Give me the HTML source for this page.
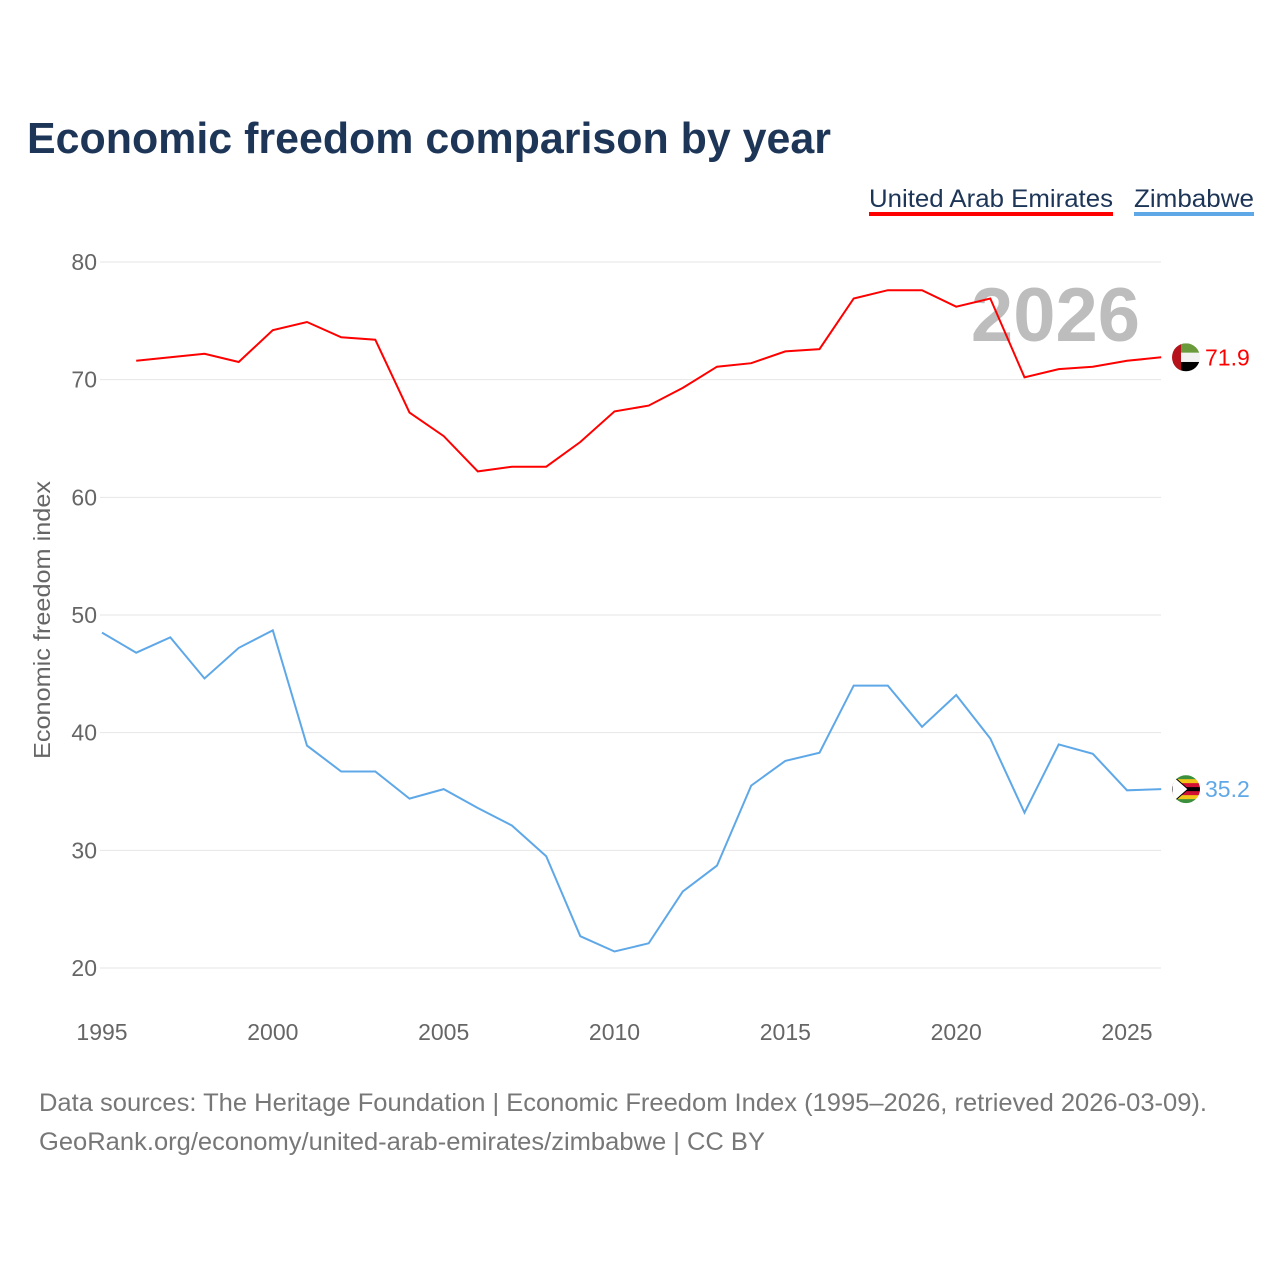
<!DOCTYPE html>
<html><head><meta charset="utf-8"><style>
body{margin:0;background:#fff;font-family:"Liberation Sans",sans-serif;}
svg text{font-family:"Liberation Sans",sans-serif;}
</style></head><body>
<svg id="chart" width="1280" height="1280" viewBox="0 0 1280 1280" xmlns="http://www.w3.org/2000/svg">
<defs>
<clipPath id="c1"><circle cx="1186" cy="0" r="14"/></clipPath>
</defs>
<text x="27" y="153" font-size="44" font-weight="bold" fill="#1d3557" textLength="804" lengthAdjust="spacingAndGlyphs">Economic freedom comparison by year</text>
<g><text x="869" y="207" font-size="25" fill="#1d3557" textLength="244" lengthAdjust="spacingAndGlyphs">United Arab Emirates</text><rect x="869" y="212" width="244" height="4" fill="#ff0000"/></g>
<g><text x="1134" y="207" font-size="25" fill="#1d3557" textLength="120" lengthAdjust="spacingAndGlyphs">Zimbabwe</text><rect x="1134" y="212" width="120" height="4" fill="#5fa8e8"/></g>
<text transform="translate(50,620) rotate(-90)" text-anchor="middle" font-size="23" fill="#666" textLength="278" lengthAdjust="spacingAndGlyphs">Economic freedom index</text>
<text x="1140" y="341" text-anchor="end" font-size="76" font-weight="bold" fill="#bdbdbd">2026</text>
<g id="grid"></g><g id="xt"></g><g id="series"></g>
<text x="39" y="1111" font-size="25" fill="#777" textLength="1168" lengthAdjust="spacingAndGlyphs">Data sources: The Heritage Foundation | Economic Freedom Index (1995–2026, retrieved 2026-03-09).</text>
<text x="39" y="1150" font-size="25" fill="#777" textLength="726" lengthAdjust="spacingAndGlyphs">GeoRank.org/economy/united-arab-emirates/zimbabwe | CC BY</text>
</svg>
<script>
const years=[1995,1996,1997,1998,1999,2000,2001,2002,2003,2004,2005,2006,2007,2008,2009,2010,2011,2012,2013,2014,2015,2016,2017,2018,2019,2020,2021,2022,2023,2024,2025,2026];
const uae=[null,71.6,71.9,72.2,71.5,74.2,74.9,73.6,73.4,67.2,65.2,62.2,62.6,62.6,64.7,67.3,67.8,69.3,71.1,71.4,72.4,72.6,76.9,77.6,77.6,76.2,76.9,70.2,70.9,71.1,71.6,71.9];
const zwe=[48.5,46.8,48.1,44.6,47.2,48.7,38.9,36.7,36.7,34.4,35.2,33.6,32.1,29.5,22.7,21.4,22.1,26.5,28.7,35.5,37.6,38.3,44.0,44.0,40.5,43.2,39.5,33.2,39.0,38.2,35.1,35.2];
const yTicks=[20,30,40,50,60,70,80];
const xTicks=[1995,2000,2005,2010,2015,2020,2025];
const NS="http://www.w3.org/2000/svg";
const x=v=>102+(v-1995)*(1127-102)/30;
const y=v=>968-(v-20)*(968-262)/60;
function mk(t,a,p){const e=document.createElementNS(NS,t);for(const k in a)e.setAttribute(k,a[k]);p.appendChild(e);return e;}
const g=document.getElementById('grid');
yTicks.forEach(t=>{
 const l=mk('line',{x1:100,x2:1161,y1:y(t),y2:y(t),stroke:'#e6e6e6','stroke-width':1},g);
 
 
 const tx=mk('text',{x:97,y:y(t)+8,'text-anchor':'end','font-size':23,fill:'#666'},g);tx.textContent=t;
 
 
});
const xt=document.getElementById('xt');
xTicks.forEach(t=>{
 const tx=mk('text',{x:x(t),y:1040,'text-anchor':'middle','font-size':23,fill:'#666'},xt);tx.textContent=t;
 
 
});
const s=document.getElementById('series');
function flag(cy,stripes,name,hoist){
 const fg=mk('g',{},s);
 
 
 const cid='clip-'+name;
 const cp=mk('clipPath',{id:cid},fg);mk('circle',{cx:1186,cy:cy,r:14},cp);
 const inner=mk('g',{'clip-path':'url(#'+cid+')'},fg);
 const h=28/stripes.length;
 stripes.forEach((c,i)=>mk('rect',{x:1172,y:cy-14+i*h,width:28,height:h+0.5,fill:c},inner));
 if(hoist==='uae')mk('rect',{x:1172,y:cy-14,width:9,height:28,fill:'#b5121b'},inner);
 if(hoist==='zwe')mk('path',{d:`M1172,${cy-14} L1188,${cy} L1172,${cy+14}Z`,fill:'#fff',stroke:'#000','stroke-width':1},inner);
}
function line(vals,color,name){
 let d='';vals.forEach((v,i)=>{if(v==null)return;d+=(d?'L':'M')+x(years[i]).toFixed(1)+','+y(v).toFixed(1);});
 const p=mk('path',{d:d,fill:'none',stroke:color,'stroke-width':2},s);
 
 
 const last=vals[vals.length-1];
 const t=mk('text',{x:1205,y:y(last)+8,'font-size':23,fill:color},s);t.textContent=last.toFixed(1);
 
 
 return y(last);
}
const yu=line(uae,'#ff0000','uae');
const yz=line(zwe,'#5fa8e8','zimbabwe');
flag(yu,['#6a9a3a','#f2f2f2','#000'],'uae','uae');
flag(yz,['#3c8f3c','#f2c618','#d21034','#000','#d21034','#f2c618','#3c8f3c'],'zimbabwe','zwe');
</script>
</body></html>
